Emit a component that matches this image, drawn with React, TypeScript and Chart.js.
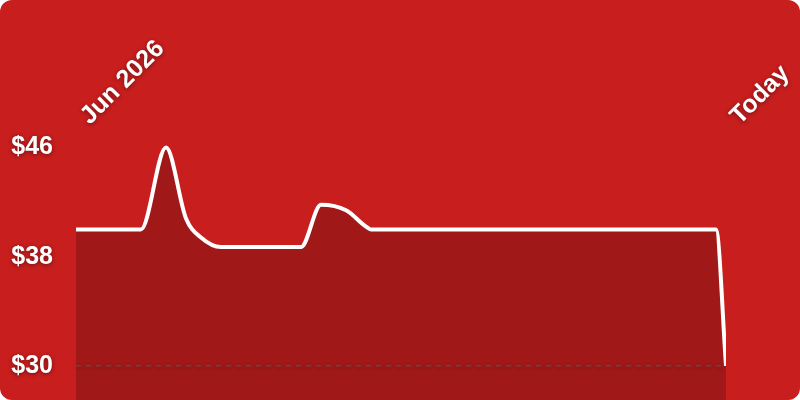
import { useEffect, useRef } from 'react';
import { Chart, registerables } from 'chart.js';

Chart.register(...registerables);

// точки кривой цены (день от начала периода -> цена в $)
const DAYS = [0, 13, 18, 22, 25, 29, 45, 49, 54, 58, 59, 128, 130];
const PRICES = [40, 40, 46, 40.8, 39.4, 38.7, 38.7, 41.8, 41.4, 40.2, 40, 40, 30];

// подписи оси X (начало и конец периода)
const X_TICKS = [0, 130];
const X_LABELS = ['Jun 2026', 'Today'];

// подписи оси Y
const Y_TICKS = [30, 38, 46];

const BG = '#C81E1E';
const FONT = { family: '"Liberation Sans", Arial, Helvetica, sans-serif', size: 25, weight: 'bold' as const };

// тень у подписей осей
const textShadow = {
  id: 'textShadow',
  beforeDraw(chart: Chart) {
    const c = chart.ctx;
    c.shadowColor = 'rgba(0,0,0,0.45)';
    c.shadowBlur = 4;
    c.shadowOffsetX = 0;
    c.shadowOffsetY = 1;
  },
  beforeDatasetsDraw(chart: Chart) {
    const c = chart.ctx;
    c.shadowColor = 'transparent';
    c.shadowBlur = 0;
    c.shadowOffsetY = 0;
  },
};

export default function App() {
  const canvasRef = useRef<HTMLCanvasElement>(null);
  const chartRef = useRef<Chart | null>(null);

  useEffect(() => {
    if (!canvasRef.current) return;
    const ctx = canvasRef.current.getContext('2d');
    if (!ctx) return;

    chartRef.current = new Chart(ctx, {
      type: 'line',
      data: {
        datasets: [{
          data: DAYS.map((d, i) => ({ x: d, y: PRICES[i] })),
          borderColor: '#ffffff',
          borderWidth: 4,
          backgroundColor: 'rgba(0,0,0,0.2)',
          fill: 'origin',
          pointRadius: 0,
          cubicInterpolationMode: 'monotone',
        }],
      },
      options: {
        animation: false,
        responsive: true,
        maintainAspectRatio: false,
        layout: { padding: { left: 0, right: 74, top: 0, bottom: 0 } },
        plugins: {
          legend: { display: false },
          tooltip: { enabled: false },
        },
        scales: {
          x: {
            type: 'linear',
            position: 'top',
            min: 0,
            max: 130,
            grid: { display: false },
            border: { display: false },
            afterBuildTicks: (s: any) => { s.ticks = X_TICKS.map(v => ({ value: v })); },
            afterFit: (s: any) => { s.height = 127; s.paddingLeft = 0; s.paddingRight = 0; },
            ticks: {
              autoSkip: false,
              minRotation: 45,
              maxRotation: 45,
              padding: -12,
              labelOffset: 30,
              color: '#ffffff',
              font: FONT,
              callback: (v: any) => X_LABELS[X_TICKS.indexOf(Number(v))] ?? '',
            },
          },
          y: {
            min: 27.5,
            max: 47.5,
            grid: {
              drawTicks: false,
              color: (c: any) => (c.tick && c.tick.value === 30 ? 'rgba(110,110,110,0.7)' : 'transparent'),
              lineWidth: 1.5,
            },
            border: { display: false, dash: [5, 5] },
            afterBuildTicks: (s: any) => { s.ticks = Y_TICKS.map(v => ({ value: v })); },
            afterFit: (s: any) => { s.width = 76; s.paddingTop = 0; s.paddingBottom = 0; },
            ticks: {
              padding: 23,
              color: '#ffffff',
              font: FONT,
              callback: (v: any) => '$' + v,
            },
          },
        },
      },
      plugins: [textShadow],
    });

    return () => {
      if (chartRef.current) chartRef.current.destroy();
      chartRef.current = null;
    };
  }, []);

  return (
    <div style={{
      position: 'fixed', left: 0, top: 0, width: 800, height: 400,
      background: BG, borderRadius: 12, overflow: 'hidden',
    }}>
      <div style={{ position: 'relative', width: 800, height: 400 }}>
        <canvas ref={canvasRef}></canvas>
      </div>
    </div>
  );
}
